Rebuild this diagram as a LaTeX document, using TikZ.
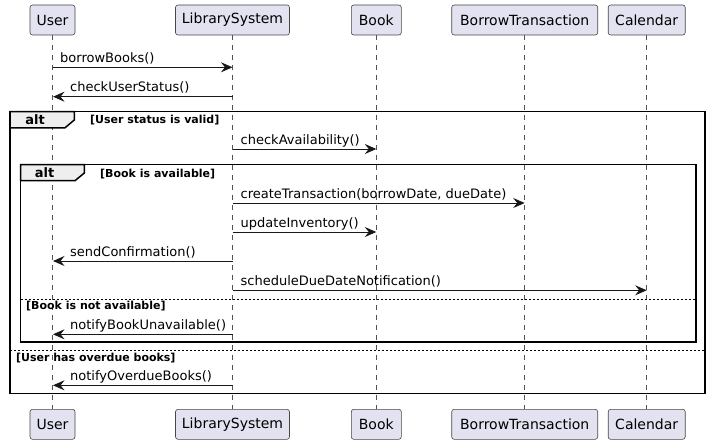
\documentclass[tikz,border=0pt]{standalone}
\usepackage{fontspec}
\setmainfont{DejaVu Sans}
\usetikzlibrary{arrows.meta,calc}
\definecolor{partfill}{HTML}{E2E2F0}
\definecolor{partline}{HTML}{181818}
\definecolor{tabfill}{HTML}{EEEEEE}
\begin{document}
\begin{tikzpicture}[x=1pt,y=-1pt,
 part/.style={draw=partline!80, line width=0.6pt, fill=partfill, rounded corners=2.5pt, minimum height=30pt, inner sep=0pt, font=\fontsize{14}{16}\selectfont, text=black},
 life/.style={draw=partline!75, line width=0.5pt, dash pattern=on 5pt off 5pt},
 msg/.style={draw=partline, line width=1pt, -{Stealth[length=11.5pt,width=10pt,inset=4pt]}},
 mtxt/.style={font=\fontsize{13}{15}\selectfont, anchor=base west, inner sep=0pt, text=black},
 frame/.style={draw=black, line width=1.5pt},
 tab/.style={draw=black, line width=1.5pt, fill=tabfill},
 guard/.style={font=\bfseries\fontsize{11}{13}\selectfont, anchor=base west, inner sep=0pt},
 alttxt/.style={font=\bfseries\fontsize{13}{15}\selectfont, anchor=base, inner sep=0pt},
 sep/.style={draw=black, line width=0.8pt, dash pattern=on 2pt off 2pt}]
\useasboundingbox (0,0) rectangle (711,444);

% participants
\node[part, minimum width=45pt]  (userT) at (52.5,20) {User};
\node[part, minimum width=114pt] (libT)  at (232.5,20) {LibrarySystem};
\node[part, minimum width=50pt]  (bookT) at (376.3,20) {Book};
\node[part, minimum width=146pt] (btT)   at (524.7,20) {BorrowTransaction};
\node[part, minimum width=77pt]  (calT)  at (646.7,20) {Calendar};
\node[part, minimum width=45pt]  (userB) at (52.5,424.3) {User};
\node[part, minimum width=114pt] (libB)  at (232.5,424.3) {LibrarySystem};
\node[part, minimum width=50pt]  (bookB) at (376.3,424.3) {Book};
\node[part, minimum width=146pt] (btB)   at (524.7,424.3) {BorrowTransaction};
\node[part, minimum width=77pt]  (calB)  at (646.7,424.3) {Calendar};

% lifelines
\draw[life] (userT.south) -- (userB.north);
\draw[life] (libT.south) -- (libB.north);
\draw[life] (bookT.south) -- (bookB.north);
\draw[life] (btT.south) -- (btB.north);
\draw[life] (calT.south) -- (calB.north);

% frames
\draw[frame] (10,111.5) rectangle (705,393.3);
\draw[tab] (10,111.5) -- (74.3,111.5) -- (74.3,120) -- (65,127.8) -- (10,127.8) -- cycle;
\node[alttxt] (alt1) at (35,124.3) {alt};
\node[guard] (g1) at (90,123.5) {[User status is valid]};

\draw[frame] (20.5,164.7) rectangle (696,342);
\draw[tab] (20.5,164.7) -- (84.3,164.7) -- (84.3,173) -- (75,180.7) -- (20.5,180.7) -- cycle;
\node[alttxt] (alt2) at (44.5,177.8) {alt};
\node[guard] (g2) at (100,177) {[Book is available]};

\draw[sep] (20.5,299.3) -- (696,299.3);
\node[guard] (g3) at (26,309.5) {[Book is not available]};
\draw[sep] (10,350.3) -- (705,350.3);
\node[guard] (g4) at (16,361) {[User has overdue books]};

% message anchor coordinates
\coordinate (m1a) at (52.5,67.3);  \coordinate (m1b) at (232.5,67.3);
\coordinate (m2a) at (232.5,96.7); \coordinate (m2b) at (53,96.7);
\coordinate (m3a) at (232.5,149);  \coordinate (m3b) at (376.3,149);
\coordinate (m4a) at (232.5,203);  \coordinate (m4b) at (524.7,203);
\coordinate (m5a) at (232.5,232);  \coordinate (m5b) at (376.3,232);
\coordinate (m6a) at (232.5,261);  \coordinate (m6b) at (53,261);
\coordinate (m7a) at (232.5,290.3);\coordinate (m7b) at (646.7,290.3);
\coordinate (m8a) at (232.5,334.3);\coordinate (m8b) at (53,334.3);
\coordinate (m9a) at (232.5,385.3);\coordinate (m9b) at (53,385.3);

% messages
\draw[msg] (m1a) -- (m1b);
\node[mtxt] (t1) at (60,62.3) {borrowBooks()};
\draw[msg] (m2a) -- (m2b);
\node[mtxt] (t2) at (70,91.7) {checkUserStatus()};
\draw[msg] (m3a) -- (m3b);
\node[mtxt] (t3) at (240.5,144) {checkAvailability()};
\draw[msg] (m4a) -- (m4b);
\node[mtxt] (t4) at (240.5,198) {createTransaction(borrowDate, dueDate)};
\draw[msg] (m5a) -- (m5b);
\node[mtxt] (t5) at (240.5,227) {updateInventory()};
\draw[msg] (m6a) -- (m6b);
\node[mtxt] (t6) at (70,256) {sendConfirmation()};
\draw[msg] (m7a) -- (m7b);
\node[mtxt] (t7) at (240.5,285.3) {scheduleDueDateNotification()};
\draw[msg] (m8a) -- (m8b);
\node[mtxt] (t8) at (70,329.3) {notifyBookUnavailable()};
\draw[msg] (m9a) -- (m9b);
\node[mtxt] (t9) at (70,380.3) {notifyOverdueBooks()};
\end{tikzpicture}
\end{document}
